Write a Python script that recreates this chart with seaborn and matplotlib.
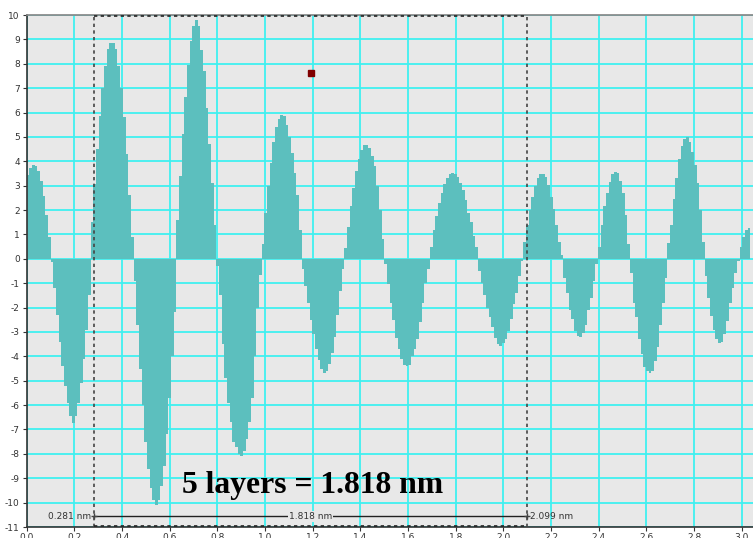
import numpy as np
import pandas as pd
import matplotlib
matplotlib.use("Agg")
import matplotlib.pyplot as plt
import seaborn as sns

# perfil de altura (un valor por paso, en orden)
paso_nm = 0.0112
lobulo_p1 = [3.44, 3.74, 3.85, 3.82, 3.6, 3.2, 2.58, 1.8, 0.89]
lobulo_n1 = [-0.15, -1.2, -2.3, -3.4, -4.4, -5.2, -5.9, -6.45, -6.75, -6.45, -5.9, -5.1, -4.1, -2.9, -1.5]
lobulo_p2 = [1.53, 3.05, 4.5, 5.85, 7.0, 7.9, 8.6, 8.85, 8.85, 8.6, 7.9, 7.0, 5.8, 4.3, 2.6, 0.9]
lobulo_n2 = [-0.9, -2.7, -4.5, -6.0, -7.5, -8.6, -9.4, -9.9, -10.1, -9.9, -9.3, -8.5, -7.2, -5.7, -4.0, -2.2]
lobulo_p3 = [1.6, 3.4, 5.1, 6.65, 7.95, 8.95, 9.55, 9.8, 9.55, 8.55, 7.7, 6.2, 4.7, 3.1, 1.4]
lobulo_n3 = [-0.3, -1.5, -3.5, -4.9, -5.9, -6.7, -7.5, -7.7, -8.0, -8.1, -7.9, -7.4, -6.7, -5.7, -4.0, -2.0, -0.65]
lobulo_p4 = [0.6, 1.9, 3.0, 3.95, 4.8, 5.4, 5.75, 5.9, 5.85, 5.5, 5.0, 4.35, 3.5, 2.6, 1.2]
lobulo_n4 = [-0.4, -1.1, -1.8, -2.5, -3.1, -3.7, -4.15, -4.5, -4.7, -4.6, -4.3, -3.85, -3.2, -2.3, -1.3, -0.4]
lobulo_p5 = [0.45, 1.3, 2.15, 2.9, 3.6, 4.1, 4.45, 4.65, 4.67, 4.55, 4.2, 3.8, 3.0, 2.0, 0.8]
lobulo_n5 = [-0.2, -1.05, -1.8, -2.5, -3.25, -3.7, -4.1, -4.35, -4.4, -4.35, -4.0, -3.7, -3.3, -2.6, -1.8, -1.0, -0.4]
lobulo_p6 = [0.5, 1.2, 1.75, 2.3, 2.7, 3.05, 3.3, 3.47, 3.54, 3.48, 3.37, 3.13, 2.83, 2.42, 1.87, 1.5, 0.92, 0.5]
lobulo_n6 = [-0.5, -1.0, -1.5, -2.0, -2.4, -2.8, -3.25, -3.5, -3.56, -3.45, -3.3, -2.95, -2.45, -1.85, -1.4, -0.7, -0.1]
lobulo_p7 = [0.7, 1.4, 2.0, 2.55, 3.0, 3.3, 3.48, 3.48, 3.37, 3.03, 2.55, 2.03, 1.4, 0.7, 0.15]
lobulo_n7 = [-0.8, -1.4, -2.1, -2.45, -2.95, -3.15, -3.2, -3.05, -2.7, -2.1, -1.6, -0.9, -0.2]
lobulo_p8 = [0.5, 1.4, 2.15, 2.7, 3.15, 3.48, 3.58, 3.54, 3.2, 2.7, 1.8, 0.6]
lobulo_n8 = [-0.6, -1.8, -2.4, -3.3, -3.9, -4.45, -4.6, -4.7, -4.6, -4.2, -3.6, -2.7, -1.8, -0.8]
lobulo_p9 = [0.65, 1.4, 2.45, 3.3, 4.08, 4.63, 4.9, 5.0, 4.8, 4.4, 3.85, 3.1, 2.0, 0.7]
lobulo_n9 = [-0.7, -1.6, -2.35, -2.9, -3.3, -3.45, -3.4, -3.1, -2.55, -1.8, -1.2, -0.6, -0.1]
lobulo_p10 = [0.5, 0.9, 1.2, 1.25]

x_ticks = [0.0, 0.2, 0.4, 0.6, 0.8, 1.0, 1.2, 1.4, 1.6, 1.8, 2.0, 2.2, 2.4, 2.6, 2.8, 3.0]
y_ticks = list(range(-11, 11))

# medida entre cursores
cursor_ini = 0.281
cursor_fin = 2.099
distancia = 1.818
punto_marca = (1.193, 7.62)

alturas = (lobulo_p1 + lobulo_n1 + lobulo_p2 + lobulo_n2 + lobulo_p3 + lobulo_n3 +
           lobulo_p4 + lobulo_n4 + lobulo_p5 + lobulo_n5 + lobulo_p6 + lobulo_n6 +
           lobulo_p7 + lobulo_n7 + lobulo_p8 + lobulo_n8 + lobulo_p9 + lobulo_n9 +
           lobulo_p10)
df = pd.DataFrame({"altura": alturas})
df["x"] = (np.arange(len(df)) + 0.5) * paso_nm

sns.set_theme(style="white")
plt.rcParams["axes.unicode_minus"] = False

fig = plt.figure(figsize=(7.53, 5.38), dpi=100)
ax = fig.add_axes([0.0355, 0.0204, 0.9645, 0.9517])
ax.set_facecolor("#e8e8e8")

sns.barplot(data=df, x="x", y="altura", native_scale=True, width=1.0,
            color="#5cbfbe", saturation=1, errorbar=None, linewidth=0, ax=ax)

ax.set_xlim(0, 3.047)
ax.set_ylim(-11, 10)
ax.set_xticks(x_ticks)
ax.set_xticklabels([f"{t:.1f}" for t in x_ticks])
ax.set_yticks(y_ticks)
ax.set_xlabel("")
ax.set_ylabel("")
ax.set_axisbelow(True)
ax.grid(True, color="#3ff0f0", linewidth=1.3)
ax.tick_params(axis="both", labelsize=6.5, colors="#333333", length=3, width=0.8,
               direction="out", pad=2, left=True, bottom=True)
ax.tick_params(axis="x", pad=1)

for lado in ["left", "bottom"]:
    ax.spines[lado].set_color("#333333")
    ax.spines[lado].set_linewidth(1.2)
ax.spines["top"].set_color("#888888")
ax.spines["right"].set_visible(False)

# recuadro punteado de la seleccion
ax.plot([cursor_ini, cursor_ini], [-11, 10], color="#444444", linestyle=(0, (2, 2)), linewidth=1.2, zorder=5)
ax.plot([cursor_fin, cursor_fin], [-11, 10], color="#444444", linestyle=(0, (2, 2)), linewidth=1.2, zorder=5)
ax.plot([cursor_ini, cursor_fin], [9.97, 9.97], color="#222222", linestyle=(0, (2, 2)), linewidth=1.2, zorder=5, clip_on=False)
ax.plot([cursor_ini, cursor_fin], [-10.97, -10.97], color="#222222", linestyle=(0, (2, 2)), linewidth=1.2, zorder=5, clip_on=False)

# linea de medida
y_med = -10.56
ax.plot([cursor_ini, cursor_fin], [y_med, y_med], color="#222222", linewidth=1.0, zorder=6)
ax.plot([cursor_ini, cursor_fin], [y_med, y_med], linestyle="none", marker="+", color="#444444", markersize=4, zorder=6)
ax.text(cursor_ini - 0.01, y_med, f"{cursor_ini} nm", fontsize=6.5, color="#333333",
        ha="right", va="center", zorder=7)
ax.text(cursor_fin + 0.012, y_med, f"{cursor_fin} nm", fontsize=6.5, color="#333333",
        ha="left", va="center", zorder=7)
ax.text((cursor_ini + cursor_fin) / 2, y_med, f"{distancia} nm", fontsize=6.5, color="#333333",
        ha="center", va="center", zorder=7,
        bbox=dict(boxstyle="square,pad=0.1", facecolor="#e8e8e8", edgecolor="none"))

ax.plot([punto_marca[0]], [punto_marca[1]], marker="s", color="#800000", markersize=4.5, zorder=7)

ax.text(0.651, -9.6, f"5 layers = {distancia} nm", fontsize=22.8, fontweight="bold",
        family="Liberation Serif", color="black", ha="left", va="baseline", zorder=8)

fig.savefig("out.png", dpi=100)
